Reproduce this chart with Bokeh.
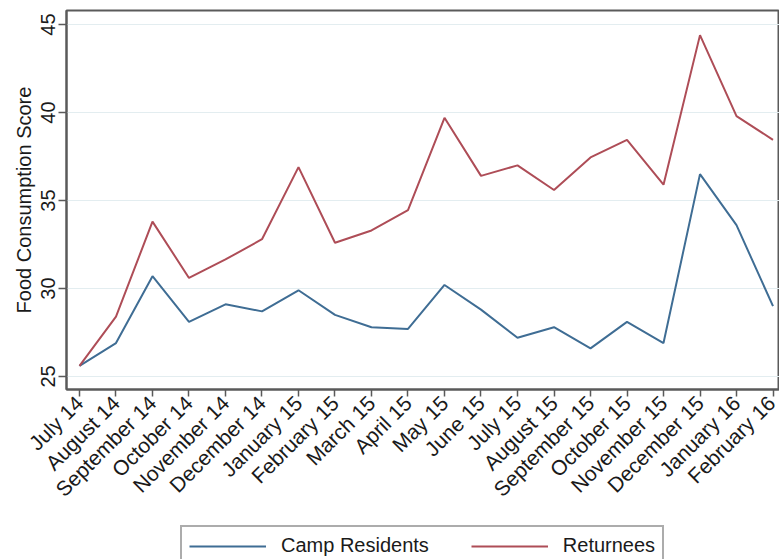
import numpy as np
from bokeh.plotting import figure
from bokeh.layouts import column
from bokeh.models import Range1d, FixedTicker, Legend, LegendItem
from bokeh.embed import file_html
from bokeh.resources import INLINE

months = ["July 14", "August 14", "September 14", "October 14", "November 14",
          "December 14", "January 15", "February 15", "March 15", "April 15",
          "May 15", "June 15", "July 15", "August 15", "September 15",
          "October 15", "November 15", "December 15", "January 16", "February 16"]
camp_residents = [25.6, 26.9, 30.7, 28.1, 29.1, 28.7, 29.9, 28.5, 27.8, 27.7,
                  30.2, 28.8, 27.2, 27.8, 26.6, 28.1, 26.9, 36.5, 33.6, 29.0]
returnees = [25.6, 28.4, 33.8, 30.6, 31.65, 32.8, 36.9, 32.6, 33.3, 34.45,
             39.7, 36.4, 37.0, 35.6, 37.45, 38.45, 35.9, 44.4, 39.8, 38.45]
y_ticks = [25, 30, 35, 40, 45]
series_names = ["Camp Residents", "Returnees"]

BLUE = "#3f6d94"
RED = "#ae4d57"
FONT = "Liberation Sans"
AXIS_GRAY = "#5a5a5a"

x = list(range(len(months)))

p = figure(frame_width=713, frame_height=379, output_backend="svg",
           toolbar_location=None,
           x_range=Range1d(-0.356, 19.178), y_range=Range1d(24.26, 45.8),
           min_border_left=66, min_border_top=10, min_border_right=0, min_border_bottom=0)

p.outline_line_color = AXIS_GRAY
p.outline_line_width = 2
p.background_fill_color = "white"
p.border_fill_color = "white"

p.line(x, camp_residents, line_color=BLUE, line_width=2)
p.line(x, returnees, line_color=RED, line_width=2)

p.xgrid.grid_line_color = None
p.ygrid.grid_line_color = "#e3edf0"
p.ygrid.grid_line_width = 1

xa = p.xaxis[0]
xa.ticker = FixedTicker(ticks=x)
xa.major_label_overrides = {i: m for i, m in enumerate(months)}
xa.major_label_orientation = np.pi / 4
xa.major_tick_out = 7
xa.major_tick_in = 0
xa.minor_tick_line_color = None
xa.axis_line_color = AXIS_GRAY
xa.axis_line_width = 2
xa.major_tick_line_color = AXIS_GRAY
xa.major_tick_line_width = 1.5
xa.major_label_text_font = FONT
xa.major_label_text_font_size = "21px"
xa.major_label_text_color = "#1a1a1a"
xa.major_label_standoff = 3

ya = p.yaxis[0]
ya.ticker = FixedTicker(ticks=y_ticks)
ya.major_label_orientation = "vertical"
ya.major_tick_out = 8
ya.major_tick_in = 0
ya.minor_tick_line_color = None
ya.axis_line_color = AXIS_GRAY
ya.axis_line_width = 2
ya.major_tick_line_color = AXIS_GRAY
ya.major_tick_line_width = 1.5
ya.major_label_text_font = FONT
ya.major_label_text_font_size = "20px"
ya.major_label_text_color = "#1a1a1a"
ya.major_label_standoff = 3
ya.axis_label = "Food Consumption Score"
ya.axis_label_text_font = FONT
ya.axis_label_text_font_size = "20px"
ya.axis_label_text_font_style = "normal"
ya.axis_label_text_color = "#1a1a1a"
ya.axis_label_standoff = 4

# Legend strip below the chart (series drawn out of view, only legend keys show)
lg = figure(width=779, height=54, output_backend="svg", toolbar_location=None,
            x_range=Range1d(0, 1), y_range=Range1d(0, 1),
            min_border=0)
lg.axis.visible = False
lg.grid.grid_line_color = None
lg.outline_line_color = None
lg.background_fill_color = "white"
lg.border_fill_color = "white"
k1 = lg.line(x, camp_residents, line_color=BLUE, line_width=2)
k2 = lg.line(x, returnees, line_color=RED, line_width=2)

legend = Legend(items=[LegendItem(label=series_names[0], renderers=[k1]),
                       LegendItem(label=series_names[1], renderers=[k2])],
                orientation="horizontal", location=(114, 0))
legend.label_text_font = FONT
legend.label_text_font_size = "20px"
legend.label_text_color = "#1a1a1a"
legend.glyph_width = 77
legend.glyph_height = 18
legend.label_standoff = 15
legend.spacing = 42
legend.padding = 7
legend.margin = 0
legend.border_line_color = AXIS_GRAY
legend.border_line_width = 2
legend.background_fill_color = "white"
lg.add_layout(legend, "center")

layout = column(p, lg, spacing=0)
open("out.html", "w").write(file_html(layout, INLINE))
